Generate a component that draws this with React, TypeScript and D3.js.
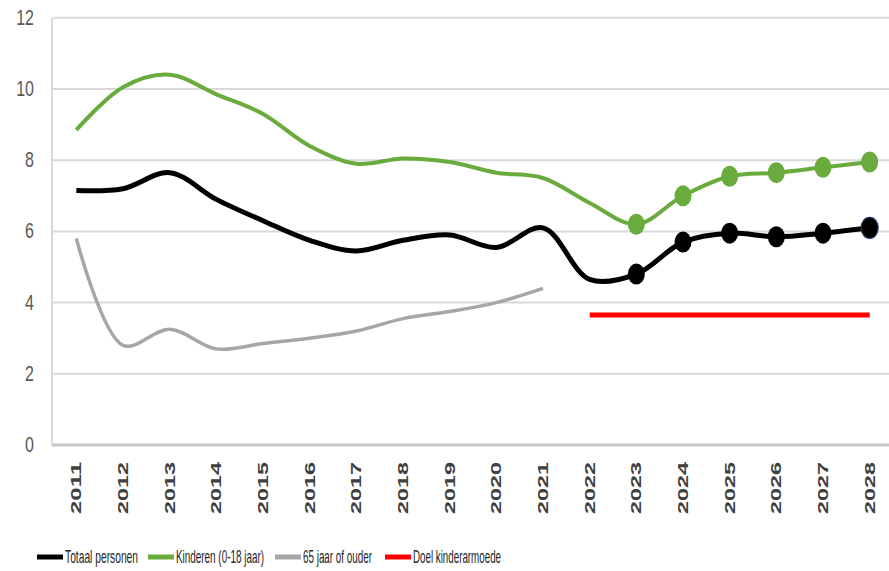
import React from "react";
import * as d3 from "d3";

const years = [2011, 2012, 2013, 2014, 2015, 2016, 2017, 2018, 2019, 2020, 2021, 2022, 2023, 2024, 2025, 2026, 2027, 2028];
const totaal = [7.15, 7.2, 7.65, 6.9, 6.3, 5.75, 5.45, 5.75, 5.9, 5.55, 6.1, 4.65, 4.8, 5.7, 5.95, 5.85, 5.95, 6.1];
const kinderen = [8.85, 10.05, 10.4, 9.85, 9.3, 8.4, 7.9, 8.05, 7.95, 7.65, 7.5, 6.8, 6.2, 7.0, 7.55, 7.65, 7.8, 7.95];
const ouderen = [5.8, 2.8, 3.25, 2.7, 2.85, 3.0, 3.2, 3.55, 3.75, 4.0, 4.4];
const doel = [3.65, 3.65, 3.65, 3.65, 3.65, 3.65, 3.65];
const doelYears = [2022, 2023, 2024, 2025, 2026, 2027, 2028];
const markerYears = [2023, 2024, 2025, 2026, 2027, 2028];
const yTicks = [0, 2, 4, 6, 8, 10, 12];
const legendItems = [
  { label: "Totaal personen", color: "#000000", x: 37, w: 73 },
  { label: "Kinderen (0-18 jaar)", color: "#6aab3e", x: 148, w: 88 },
  { label: "65 jaar of ouder", color: "#a6a6a6", x: 275, w: 69 },
  { label: "Doel kinderarmoede", color: "#ff0000", x: 385, w: 88 },
];

export default function App() {
  const W = 889, H = 571;
  const x = d3.scaleBand<number>().domain(years).range([53, 893]);
  const cx = (yr: number) => (x(yr) as number) + x.bandwidth() / 2;
  const y = d3.scaleLinear().domain([0, 12]).range([445, 17.8]);
  const line = d3.line<[number, number]>().x(d => cx(d[0])).y(d => y(d[1])).curve(d3.curveCatmullRom.alpha(0.5));
  const straight = d3.line<[number, number]>().x(d => cx(d[0])).y(d => y(d[1]));
  const pts = (ys: number[], vs: number[]) => vs.map((v, i) => [ys[i], v] as [number, number]);
  const font = "'Liberation Sans Narrow', 'Liberation Sans', Arial, sans-serif";

  return (
    <svg width={W} height={H} style={{ position: "absolute", left: 0, top: 0, background: "#fff" }}>
      <rect width={W} height={H} fill="#fff" />
      {yTicks.map(t => (
        <line key={t} x1={53} x2={889} y1={y(t)} y2={y(t)} stroke="#d9d9d9" strokeWidth={2} />
      ))}
      <line x1={52} x2={52} y1={y(12)} y2={y(0)} stroke="#d9d9d9" strokeWidth={2} />
      <line x1={52} x2={889} y1={y(0)} y2={y(0)} stroke="#c6c6c6" strokeWidth={3} />
      {yTicks.map(t => (
        <g key={t} transform={`translate(34,${y(t) + 7}) scale(1,1.35)`}>
          <text textAnchor="end" fontFamily={font} fontSize={16} fill="#595959">{t}</text>
        </g>
      ))}
      {years.map(yr => (
        <text key={yr} transform={`translate(${cx(yr) + 5},462) rotate(-90)`} textAnchor="end"
          fontFamily="Arial, sans-serif" fontWeight="bold" fontSize={14} fill="#404040"
          textLength={52} lengthAdjust="spacingAndGlyphs">{yr}</text>
      ))}
      <path d={line(pts(years.slice(0, ouderen.length), ouderen)) || ""} fill="none" stroke="#a6a6a6" strokeWidth={3.5} />
      <path d={straight(pts(doelYears, doel)) || ""} fill="none" stroke="#ff0000" strokeWidth={5} />
      <path d={line(pts(years, kinderen)) || ""} fill="none" stroke="#6aab3e" strokeWidth={4} />
      <path d={line(pts(years, totaal)) || ""} fill="none" stroke="#000000" strokeWidth={5} />
      {markerYears.map(yr => {
        const i = years.indexOf(yr);
        return <ellipse key={"g" + yr} cx={cx(yr)} cy={y(kinderen[i])} rx={8.5} ry={10.5} fill="#6aab3e" />;
      })}
      {markerYears.map((yr, k) => {
        const i = years.indexOf(yr);
        const last = k === markerYears.length - 1;
        return <ellipse key={"b" + yr} cx={cx(yr)} cy={y(totaal[i])} rx={8.5} ry={10.5} fill="#000"
          stroke={last ? "#1f3864" : "none"} strokeWidth={1.2} />;
      })}
      {legendItems.map(it => (
        <g key={it.label}>
          <line x1={it.x} x2={it.x + 26} y1={557} y2={557} stroke={it.color} strokeWidth={5} />
          <g transform={`translate(${it.x + 28},563) scale(1,1.55)`}>
            <text fontFamily={font} fontSize={12} fill="#262626" textLength={it.w} lengthAdjust="spacingAndGlyphs">{it.label}</text>
          </g>
        </g>
      ))}
    </svg>
  );
}
